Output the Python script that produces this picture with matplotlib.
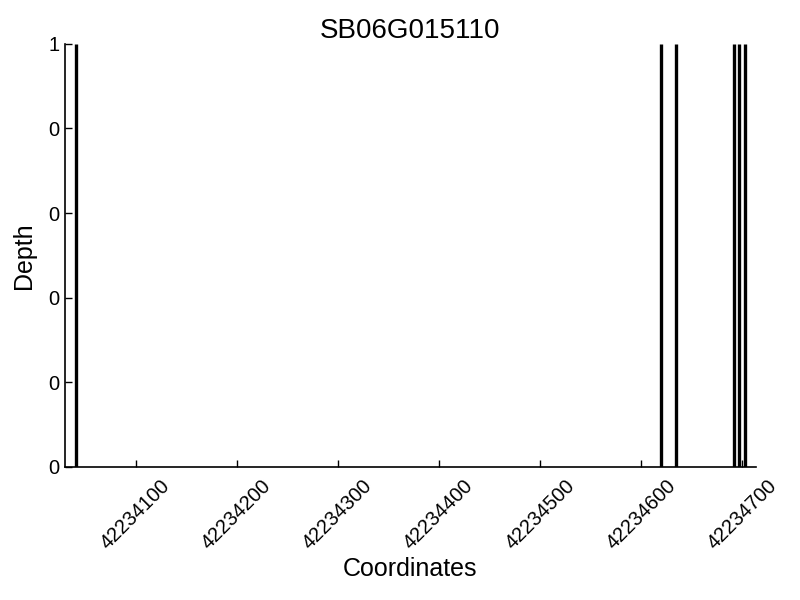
import numpy as np
import matplotlib
matplotlib.use("Agg")
import matplotlib.pyplot as plt
from matplotlib.ticker import FormatStrFormatter

plt.rcParams['font.family'] = ['Liberation Sans', 'DejaVu Sans']

gene = "SB06G015110"
# covered positions (depth 1)
positions = [42234040.8, 42234620.4, 42234635.2, 42234692.0, 42234697.4, 42234703.3]
depth = [1, 1, 1, 1, 1, 1]
xticks = [42234100, 42234200, 42234300, 42234400, 42234500, 42234600, 42234700]
yticks = [0, 0.2, 0.4, 0.6, 0.8, 1.0]

fig = plt.figure(figsize=(8, 6), dpi=100)
ax = fig.add_axes([0.081, 0.222, 0.864, 0.705])

ax.vlines(positions, 0, depth, colors='k', lw=2.4)

ax.set_xlim(42234030, 42234714)
ax.set_ylim(0, 1)
ax.set_xticks(xticks)
ax.set_xticklabels([str(t) for t in xticks], rotation=45, ha='center')
ax.set_yticks(yticks)
ax.yaxis.set_major_formatter(FormatStrFormatter('%d'))
ax.tick_params(direction='in', length=5, width=1, labelsize=14.5, pad=4)
ax.tick_params(axis='x', pad=7)

for side in ('top', 'right'):
    ax.spines[side].set_visible(False)
ax.spines['left'].set_linewidth(1.2)
ax.spines['bottom'].set_linewidth(1.2)

ax.set_title(gene, fontsize=20, pad=3)
ax.set_xlabel("Coordinates", fontsize=18, labelpad=3)
ax.set_ylabel("Depth", fontsize=18, labelpad=9)

fig.savefig("out.png", dpi=100)
